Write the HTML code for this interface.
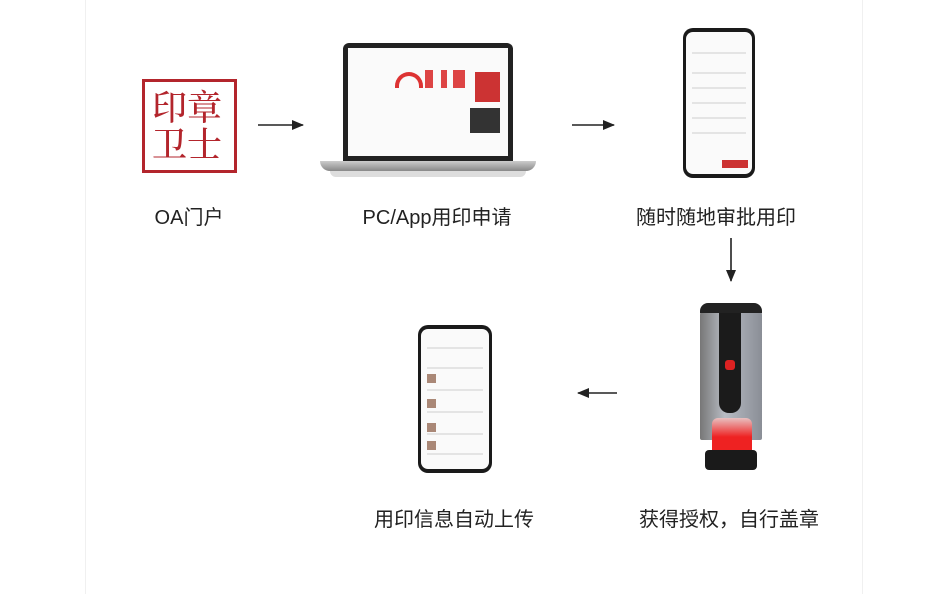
<!DOCTYPE html>
<html><head><meta charset="utf-8"><style>
body{margin:0;width:937px;height:594px;background:#fff;position:relative;overflow:hidden;font-family:"Liberation Sans","Noto Sans CJK SC",sans-serif}
.a{position:absolute}
.lbl{position:absolute;font-size:20px;color:#222;transform:translateX(-50%);white-space:nowrap}
.ph{position:absolute;background:#1a1a1a;border-radius:10px}
.ph .s{position:absolute;left:3px;right:3px;top:4px;bottom:4px;background:#fafafa;border-radius:7px}
.ln{position:absolute;height:2px;background:#e4e4e4;left:6px;right:6px}
</style></head><body>
<div class="a" style="left:85px;top:0;width:1px;height:594px;background:#f0f0f0"></div>
<div class="a" style="left:862px;top:0;width:1px;height:594px;background:#f0f0f0"></div>
<!-- logo -->
<div class="a" style="left:142px;top:79px;width:89px;height:88px;border:3px solid #b3252c"></div>
<div class="a" style="left:152px;top:88px;font-size:35px;line-height:37px;color:#b3252c;font-family:'Noto Serif CJK SC',serif;font-weight:500">印章<br>卫士</div>
<!-- laptop -->
<div class="a" style="left:343px;top:43px;width:170px;height:118px;background:#222;border-radius:6px 6px 0 0"></div>
<div class="a" style="left:348px;top:48px;width:160px;height:108px;background:#fafafa"></div>
<div class="a" style="left:395px;top:72px;width:20px;height:12px;border:4px solid #d33;border-bottom:none;border-radius:14px 14px 0 0"></div>
<div class="a" style="left:425px;top:70px;width:40px;height:18px;background:linear-gradient(90deg,#d44 20%,transparent 20%,transparent 40%,#d44 40%,#d44 55%,transparent 55%,transparent 70%,#d44 70%)"></div>
<div class="a" style="left:475px;top:72px;width:25px;height:30px;background:#c33"></div>
<div class="a" style="left:470px;top:108px;width:30px;height:25px;background:#333"></div>
<div class="a" style="left:320px;top:161px;width:216px;height:10px;background:linear-gradient(#ccc,#888);border-radius:0 0 20px 20px"></div>
<div class="a" style="left:330px;top:171px;width:196px;height:6px;background:#ddd;border-radius:0 0 8px 8px"></div>
<!-- phone1 -->
<div class="ph" style="left:683px;top:28px;width:72px;height:150px"><div class="s">
<div class="ln" style="top:20px"></div><div class="ln" style="top:40px"></div><div class="ln" style="top:55px"></div><div class="ln" style="top:70px"></div><div class="ln" style="top:85px"></div><div class="ln" style="top:100px"></div>
<div class="a" style="left:36px;top:128px;width:26px;height:8px;background:#c33"></div></div></div>
<!-- phone2 -->
<div class="ph" style="left:418px;top:325px;width:74px;height:148px"><div class="s">
<div class="ln" style="top:18px"></div><div class="ln" style="top:38px"></div><div class="ln" style="top:60px"></div><div class="ln" style="top:82px"></div><div class="ln" style="top:104px"></div><div class="ln" style="top:124px"></div>
<div class="a" style="left:6px;top:45px;width:9px;height:9px;background:#a87"></div><div class="a" style="left:6px;top:70px;width:9px;height:9px;background:#a87"></div><div class="a" style="left:6px;top:94px;width:9px;height:9px;background:#a87"></div><div class="a" style="left:6px;top:112px;width:9px;height:9px;background:#a87"></div></div></div>
<!-- stamp -->
<div class="a" style="left:700px;top:305px;width:62px;height:135px;background:linear-gradient(90deg,#777,#b8bcc4 40%,#8a8e96);border-radius:10px 10px 2px 2px"></div>
<div class="a" style="left:700px;top:303px;width:62px;height:10px;background:#222;border-radius:8px 8px 0 0"></div>
<div class="a" style="left:719px;top:313px;width:22px;height:100px;background:#1b1b1b;border-radius:0 0 10px 10px"></div>
<div class="a" style="left:725px;top:360px;width:10px;height:10px;background:#d22;border-radius:3px"></div>
<div class="a" style="left:712px;top:418px;width:40px;height:38px;background:linear-gradient(#e8c0c0,#e22 50%);border-radius:6px 6px 0 0"></div>
<div class="a" style="left:705px;top:450px;width:52px;height:20px;background:#1a1a1a;border-radius:4px"></div>
<!-- arrows -->
<svg class="a" style="left:0;top:0" width="937" height="594">
<defs><marker id="m" markerUnits="userSpaceOnUse" markerWidth="12" markerHeight="10" refX="11" refY="5" orient="auto"><path d="M0,0L12,5L0,10z" fill="#222"/></marker></defs>
<g stroke="#222" stroke-width="1.6" marker-end="url(#m)">
<line x1="258" y1="125" x2="303" y2="125"/><line x1="572" y1="125" x2="614" y2="125"/>
<line x1="731" y1="238" x2="731" y2="281"/><line x1="617" y1="393" x2="578" y2="393"/></g></svg>
<div class="lbl" style="left:189px;top:201px">OA门户</div>
<div class="lbl" style="left:437px;top:201px">PC/App用印申请</div>
<div class="lbl" style="left:716px;top:201px">随时随地审批用印</div>
<div class="lbl" style="left:454px;top:503px">用印信息自动上传</div>
<div class="lbl" style="left:729px;top:503px">获得授权，自行盖章</div>
</body></html>
